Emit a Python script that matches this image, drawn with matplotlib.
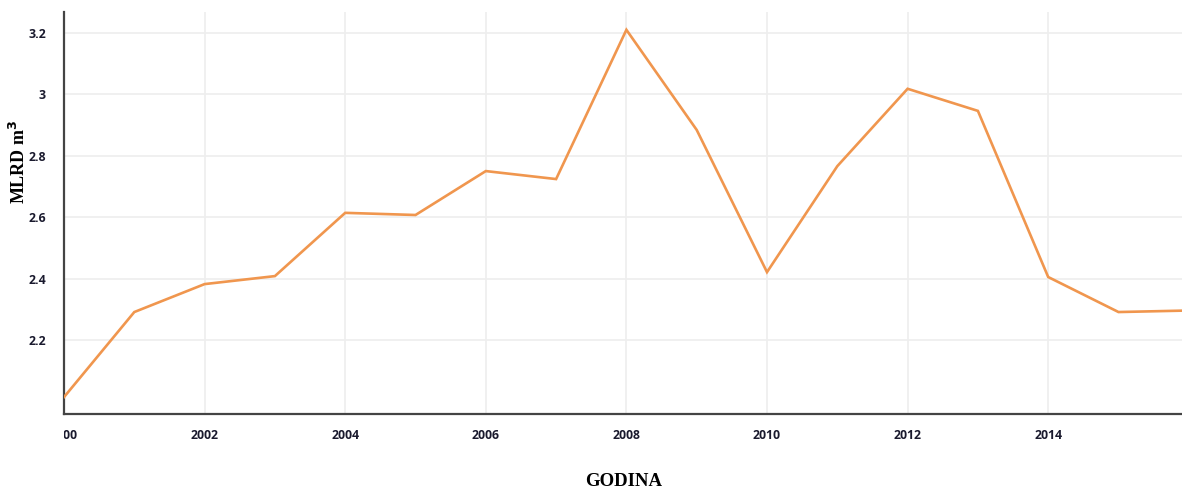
import matplotlib
matplotlib.use("Agg")
import matplotlib.pyplot as plt
from matplotlib.transforms import Bbox

years = [2000, 2001, 2002, 2003, 2004, 2005, 2006, 2007, 2008,
         2009, 2010, 2011, 2012, 2013, 2014, 2015, 2016]
values = [2.014, 2.291, 2.382, 2.408, 2.614, 2.607, 2.750, 2.724, 3.210,
          2.884, 2.421, 2.766, 3.018, 2.946, 2.405, 2.291, 2.296]
xticks = [2000, 2002, 2004, 2006, 2008, 2010, 2012, 2014]
xticklabels = ["2000", "2002", "2004", "2006", "2008", "2010", "2012", "2014"]
yticks = [2.2, 2.4, 2.6, 2.8, 3.0, 3.2]
yticklabels = ["2.2", "2.4", "2.6", "2.8", "3", "3.2"]

W, H = 1182, 488
fig = plt.figure(figsize=(W / 100, H / 100), dpi=100)
ax = fig.add_axes([64 / W, 1 - 414 / H, 1 - 64 / W, (414 - 12) / H])

ax.plot(years, values, color="#F0964E", lw=1.9, solid_joinstyle="miter", zorder=3)

ax.set_xlim(2000, 2000 + (W - 64) / 70.3)
ax.set_ylim(1.959, 3.268)
ax.set_xticks(xticks)
ax.set_xticklabels(xticklabels)
ax.set_yticks(yticks)
ax.set_yticklabels(yticklabels)

ax.grid(True, color="#eeeeee", lw=1.2, zorder=0)
for s in ["top", "right"]:
    ax.spines[s].set_visible(False)
for s in ["left", "bottom"]:
    ax.spines[s].set_color("#444444")
    ax.spines[s].set_linewidth(1.6)

ax.tick_params(axis="both", length=0, labelsize=8.8, labelcolor="#1a1a2e")
ax.tick_params(axis="x", pad=11)
ax.tick_params(axis="y", pad=13)
for lab in ax.get_xticklabels() + ax.get_yticklabels():
    lab.set_fontfamily("Open Sans")
    lab.set_fontweight("bold")

fig.canvas.draw()
clipbox = Bbox.from_extents(64, 0, W, H)
for lab in ax.get_xticklabels():
    lab.set_clip_on(True)
    lab.set_clip_box(clipbox)

fig.text(624 / W, 1 - 481 / H, "GODINA", ha="center", va="center",
         fontfamily="Liberation Serif", fontweight="bold", fontsize=13.5)
fig.text(19 / W, 1 - 162 / H, r"MLRD m$^\mathbf{3}$", ha="center", va="center",
         rotation=90, fontfamily="Liberation Serif", fontweight="bold", fontsize=13)

fig.savefig("out.png", dpi=100)
